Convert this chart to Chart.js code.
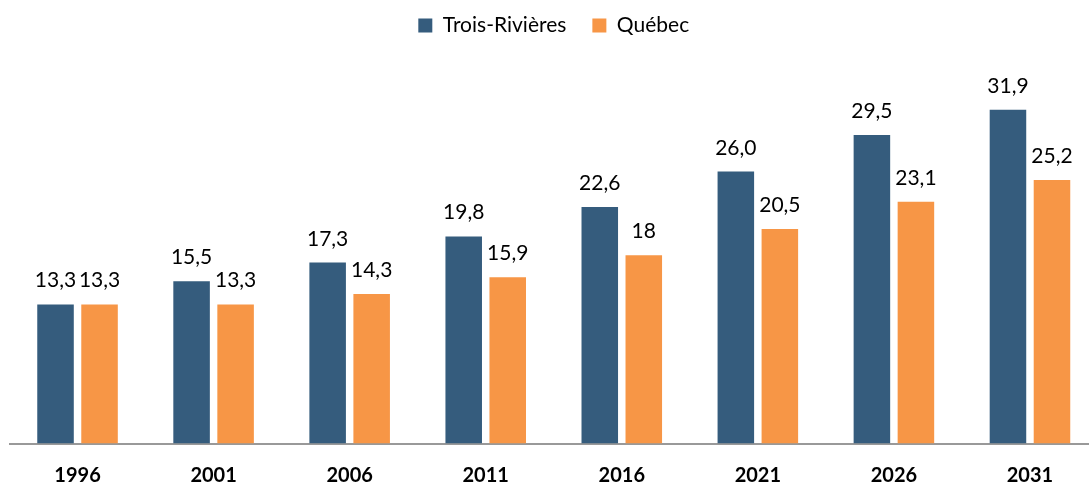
<!DOCTYPE html>
<html lang="fr">
<head>
    <meta charset="UTF-8">
    <title>Trois-Rivières / Québec</title>
    <script src="https://cdn.jsdelivr.net/npm/chart.js"></script>
    <style>
        body { margin: 0; background: #fff; overflow: hidden; }
        #wrap { width: 1098px; height: 487px; }
    </style>
</head>
<body>
    <div id="wrap"><canvas id="myChart"></canvas></div>

    <script>
        // données
        const years = ['1996', '2001', '2006', '2011', '2016', '2021', '2026', '2031'];
        const troisRivieres = [13.3, 15.5, 17.3, 19.8, 22.6, 26.0, 29.5, 31.9];
        const quebec = [13.3, 13.3, 14.3, 15.9, 18, 20.5, 23.1, 25.2];

        const fontFamily = 'Lato, "Noto Sans", sans-serif';

        // étiquettes au-dessus des barres
        const barLabels = {
            id: 'barLabels',
            afterDatasetsDraw(chart) {
                const ctx = chart.ctx;
                ctx.save();
                ctx.font = '21px ' + fontFamily;
                ctx.fillStyle = '#000';
                ctx.textAlign = 'center';
                ctx.textBaseline = 'alphabetic';
                chart.data.datasets.forEach((ds, i) => {
                    chart.getDatasetMeta(i).data.forEach((bar, j) => {
                        const v = ds.data[j];
                        const txt = i === 0 ? v.toFixed(1).replace('.', ',') : String(v).replace('.', ',');
                        ctx.fillText(txt, bar.x, bar.y - 17);
                    });
                });
                ctx.restore();
            }
        };

        const config = {
            type: 'bar',
            data: {
                labels: years,
                datasets: [{
                    label: 'Trois-Rivières',
                    backgroundColor: 'rgb(53, 92, 125)',
                    data: troisRivieres
                }, {
                    label: 'Québec',
                    backgroundColor: 'rgb(247, 150, 70)',
                    data: quebec
                }]
            },
            options: {
                responsive: true,
                maintainAspectRatio: false,
                animation: false,
                categoryPercentage: 0.647,
                barPercentage: 0.83,
                layout: { padding: { left: 9.5, right: 0, top: -11, bottom: -12.5 } },
                plugins: {
                    tooltip: { enabled: false },
                    legend: {
                        position: 'top',
                        labels: {
                            color: '#000',
                            font: { family: fontFamily, size: 21 },
                            boxWidth: 14,
                            boxHeight: 14,
                            padding: 26
                        }
                    }
                },
                scales: {
                    x: {
                        grid: { display: false },
                        border: { display: true, color: '#999', width: 2 },
                        ticks: {
                            color: '#000',
                            padding: 12,
                            font: { family: fontFamily, size: 20, weight: 'bold' }
                        }
                    },
                    y: {
                        display: false,
                        min: 0,
                        max: 38
                    }
                }
            },
            plugins: [barLabels]
        };

        new Chart(document.getElementById('myChart'), config);
    </script>
</body>
</html>
